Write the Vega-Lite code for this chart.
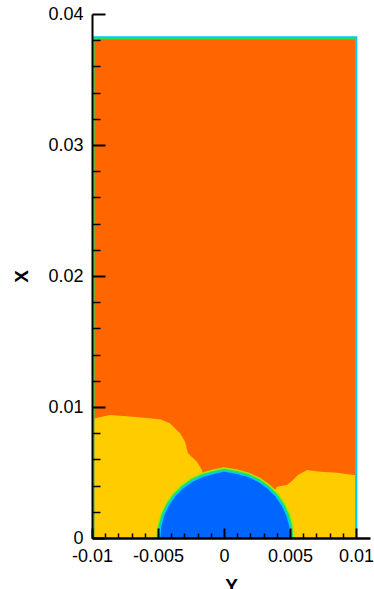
{
  "$schema": "https://vega.github.io/schema/vega-lite/v6.json",
  "width": 278,
  "height": 524,
  "autosize": {"type": "none"},
  "padding": {"left": 92, "top": 14, "right": 4, "bottom": 51},
  "background": "white",
  "config": {
    "view": {"stroke": null},
    "axis": {
      "zindex": 1,
      "grid": false,
      "domainColor": "black",
      "tickColor": "black",
      "labelColor": "black",
      "titleColor": "black",
      "labelFont": "Liberation Sans",
      "titleFont": "Liberation Sans",
      "labelFontSize": 18,
      "titleFontSize": 19,
      "titleFontWeight": "bold",
      "labelFlush": false,
      "labelOverlap": false
    }
  },
  "resolve": {"axis": {"x": "independent", "y": "independent"}},
  "layer": [
    {
      "data": {"values": [
        {"part": "cyan", "x1": -0.01, "x2": 0.0101, "y1": 0, "y2": 0.0383},
        {"part": "green", "x1": -0.00993, "x2": 0.01, "y1": 0, "y2": 0.03818},
        {"part": "orange", "x1": -0.0098, "x2": 0.00993, "y1": 0, "y2": 0.03808}
      ]},
      "mark": {"type": "rect"},
      "encoding": {
        "x": {"field": "x1", "type": "quantitative",
          "scale": {"domain": [-0.01, 0.01106], "nice": false, "zero": false},
          "axis": {"orient": "bottom", "zindex": 2, "values": [-0.01, -0.005, 0, 0.005, 0.01],
            "labelExpr": "toString(datum.value)", "tickSize": -10, "tickWidth": 2,
            "domainWidth": 2.5, "labelPadding": 19, "title": "Y", "titlePadding": 11}},
        "x2": {"field": "x2"},
        "y": {"field": "y1", "type": "quantitative",
          "scale": {"domain": [0, 0.04], "nice": false, "zero": false},
          "axis": {"orient": "left", "zindex": 2, "values": [0, 0.01, 0.02, 0.03, 0.04],
            "labelExpr": "toString(datum.value)", "tickSize": -13, "tickWidth": 2,
            "domainWidth": 2, "labelPadding": 22, "title": "X", "titlePadding": 16}},
        "y2": {"field": "y2"},
        "color": {"field": "part", "type": "nominal",
          "scale": {"domain": ["cyan", "green", "orange"], "range": ["#00C8FF", "#22E060", "#FF6600"]},
          "legend": null}
      }
    },
    {
      "data": {"values": [
        {"x": -0.0098, "y": 0.00914},
        {"x": -0.00864, "y": 0.00939},
        {"x": -0.0069, "y": 0.00926},
        {"x": -0.00485, "y": 0.00906},
        {"x": -0.0041, "y": 0.00876},
        {"x": -0.00333, "y": 0.00799},
        {"x": -0.00295, "y": 0.00735},
        {"x": -0.00273, "y": 0.00647},
        {"x": -0.00205, "y": 0.00582},
        {"x": -0.00167, "y": 0.00519},
        {"x": -0.0012, "y": 0.003},
        {"x": 0.0035, "y": 0.003},
        {"x": 0.004, "y": 0.00392},
        {"x": 0.00477, "y": 0.00405},
        {"x": 0.00523, "y": 0.00443},
        {"x": 0.0056, "y": 0.00481},
        {"x": 0.0063, "y": 0.00519},
        {"x": 0.00727, "y": 0.00506},
        {"x": 0.00856, "y": 0.00498},
        {"x": 0.0098, "y": 0.00481},
        {"x": 0.00993, "y": 0.00481}
      ]},
      "mark": {"type": "area", "color": "#FFCC00", "interpolate": "linear"},
      "encoding": {
        "x": {"field": "x", "type": "quantitative",
          "axis": {"orient": "bottom", "zindex": 2, "values": [-0.009, -0.008, -0.007, -0.006, -0.004, -0.003, -0.002, -0.001, 0.001, 0.002, 0.003, 0.004, 0.006, 0.007, 0.008, 0.009],
            "labels": false, "domain": false, "tickSize": -5, "tickWidth": 1.5, "title": null}},
        "y": {"field": "y", "type": "quantitative",
          "axis": {"orient": "left", "zindex": 2, "values": [0.002, 0.004, 0.006, 0.008, 0.012, 0.014, 0.016, 0.018, 0.022, 0.024, 0.026, 0.028, 0.032, 0.034, 0.036, 0.038],
            "labels": false, "domain": false, "tickSize": -8, "tickWidth": 1.5, "title": null}}
      }
    },
    {
      "data": {"values": [
        {"x": -0.004824, "y": 0},
        {"x": -0.004749, "y": 0.000861},
        {"x": -0.004527, "y": 0.001697},
        {"x": -0.004164, "y": 0.002481},
        {"x": -0.003672, "y": 0.00319},
        {"x": -0.003065, "y": 0.003801},
        {"x": -0.002362, "y": 0.004297},
        {"x": -0.001584, "y": 0.004663},
        {"x": -0.000755, "y": 0.004887},
        {"x": 0.0, "y": 0.00505},
        {"x": 0.000955, "y": 0.004887},
        {"x": 0.001784, "y": 0.004663},
        {"x": 0.002562, "y": 0.004297},
        {"x": 0.003265, "y": 0.003801},
        {"x": 0.003872, "y": 0.00319},
        {"x": 0.004364, "y": 0.002481},
        {"x": 0.004727, "y": 0.001697},
        {"x": 0.004949, "y": 0.000861},
        {"x": 0.005024, "y": 0}
      ]},
      "layer": [
        {"mark": {"type": "line", "color": "#A6EA00", "strokeWidth": 9, "clip": true},
         "encoding": {"x": {"field": "x", "type": "quantitative", "axis": null}, "y": {"field": "y", "type": "quantitative", "axis": null}}},
        {"mark": {"type": "line", "color": "#22E060", "strokeWidth": 6, "clip": true},
         "encoding": {"x": {"field": "x", "type": "quantitative", "axis": null}, "y": {"field": "y", "type": "quantitative", "axis": null}}},
        {"mark": {"type": "line", "color": "#00C8FF", "strokeWidth": 3, "clip": true},
         "encoding": {"x": {"field": "x", "type": "quantitative", "axis": null}, "y": {"field": "y", "type": "quantitative", "axis": null}}},
        {"mark": {"type": "area", "color": "#0066FF", "clip": true},
         "encoding": {"x": {"field": "x", "type": "quantitative", "axis": null}, "y": {"field": "y", "type": "quantitative", "axis": null}}}
      ]
    }
  ]
}
